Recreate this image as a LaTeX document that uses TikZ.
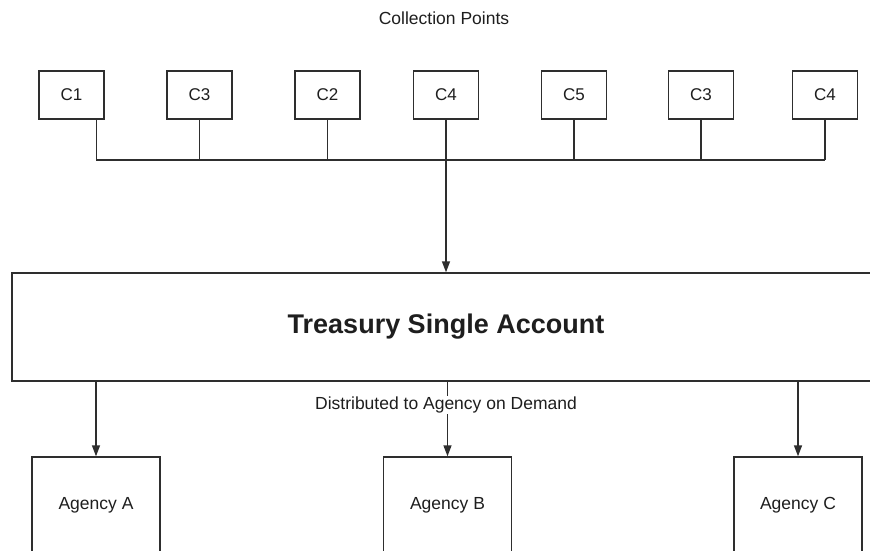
\documentclass[tikz,border=0pt]{standalone}
\usepackage{fontspec}
\setmainfont{Liberation Sans}
\usetikzlibrary{arrows.meta}
\definecolor{ln}{HTML}{2E2E2E}
\definecolor{tx}{HTML}{1E1E1E}
\tikzset{
  cbox/.style={draw=ln, line width=1.4pt, minimum width=65pt, minimum height=48pt, inner sep=0pt, text=tx, font=\fontsize{17}{19}\selectfont},
  agbox/.style={draw=ln, line width=1.4pt, minimum width=128pt, minimum height=96pt, inner sep=0pt, text=tx, font=\fontsize{17.5}{19}\selectfont},
  tsabox/.style={draw=ln, line width=1.4pt, minimum width=868pt, minimum height=108pt, inner sep=0pt, text=tx, font=\fontsize{27}{30}\selectfont\bfseries},
  conn/.style={draw=ln, line width=1.4pt},
  arr/.style={conn, -{Triangle[length=11pt,width=8pt]}},
  lbl/.style={text=tx, font=\fontsize{17.5}{19}\selectfont, inner sep=1pt},
}
\begin{document}
\begin{tikzpicture}[x=1pt, y=-1pt]
\clip (0,0) rectangle (870,550);
\fill[white] (0,0) rectangle (870,550);

\node[lbl] (title) at (444,18) {Collection Points};

\node[cbox] (c1) at (71.5,95) {C1};
\node[cbox] (c2) at (199.5,95) {C3};
\node[cbox] (c3) at (327.5,95) {C2};
\node[cbox] (c4) at (446,95) {C4};
\node[cbox] (c5) at (574,95) {C5};
\node[cbox] (c6) at (701,95) {C3};
\node[cbox] (c7) at (825,95) {C4};

\node[tsabox] (tsa) at (446,327) {Treasury Single Account};

\node[agbox] (ag1) at (96,505) {Agency A};
\node[agbox] (ag2) at (447.5,505) {Agency B};
\node[agbox] (ag3) at (798,505) {Agency C};

\coordinate (c1d) at ([xshift=-8pt]c1.south east);
\coordinate (busL) at (96,160);
\coordinate (busR) at (825,160);

\draw[conn] (c1d) -- (c1d |- busL);
\draw[conn] (busL) -- (busR);
\foreach \n in {c2,c3,c5,c6,c7} {
  \draw[conn] (\n.south) -- (\n.south |- busL);
}
\draw[arr] (c4.south) -- (c4.south |- tsa.north);

\draw[arr] (tsa.south -| ag1.north) -- (ag1.north);
\draw[arr] (tsa.south -| ag2.north) -- (ag2.north);
\draw[arr] (tsa.south -| ag3.north) -- (ag3.north);

\node[lbl, fill=white] (dist) at (446,405) {Distributed to Agency on Demand};
\end{tikzpicture}
\end{document}
